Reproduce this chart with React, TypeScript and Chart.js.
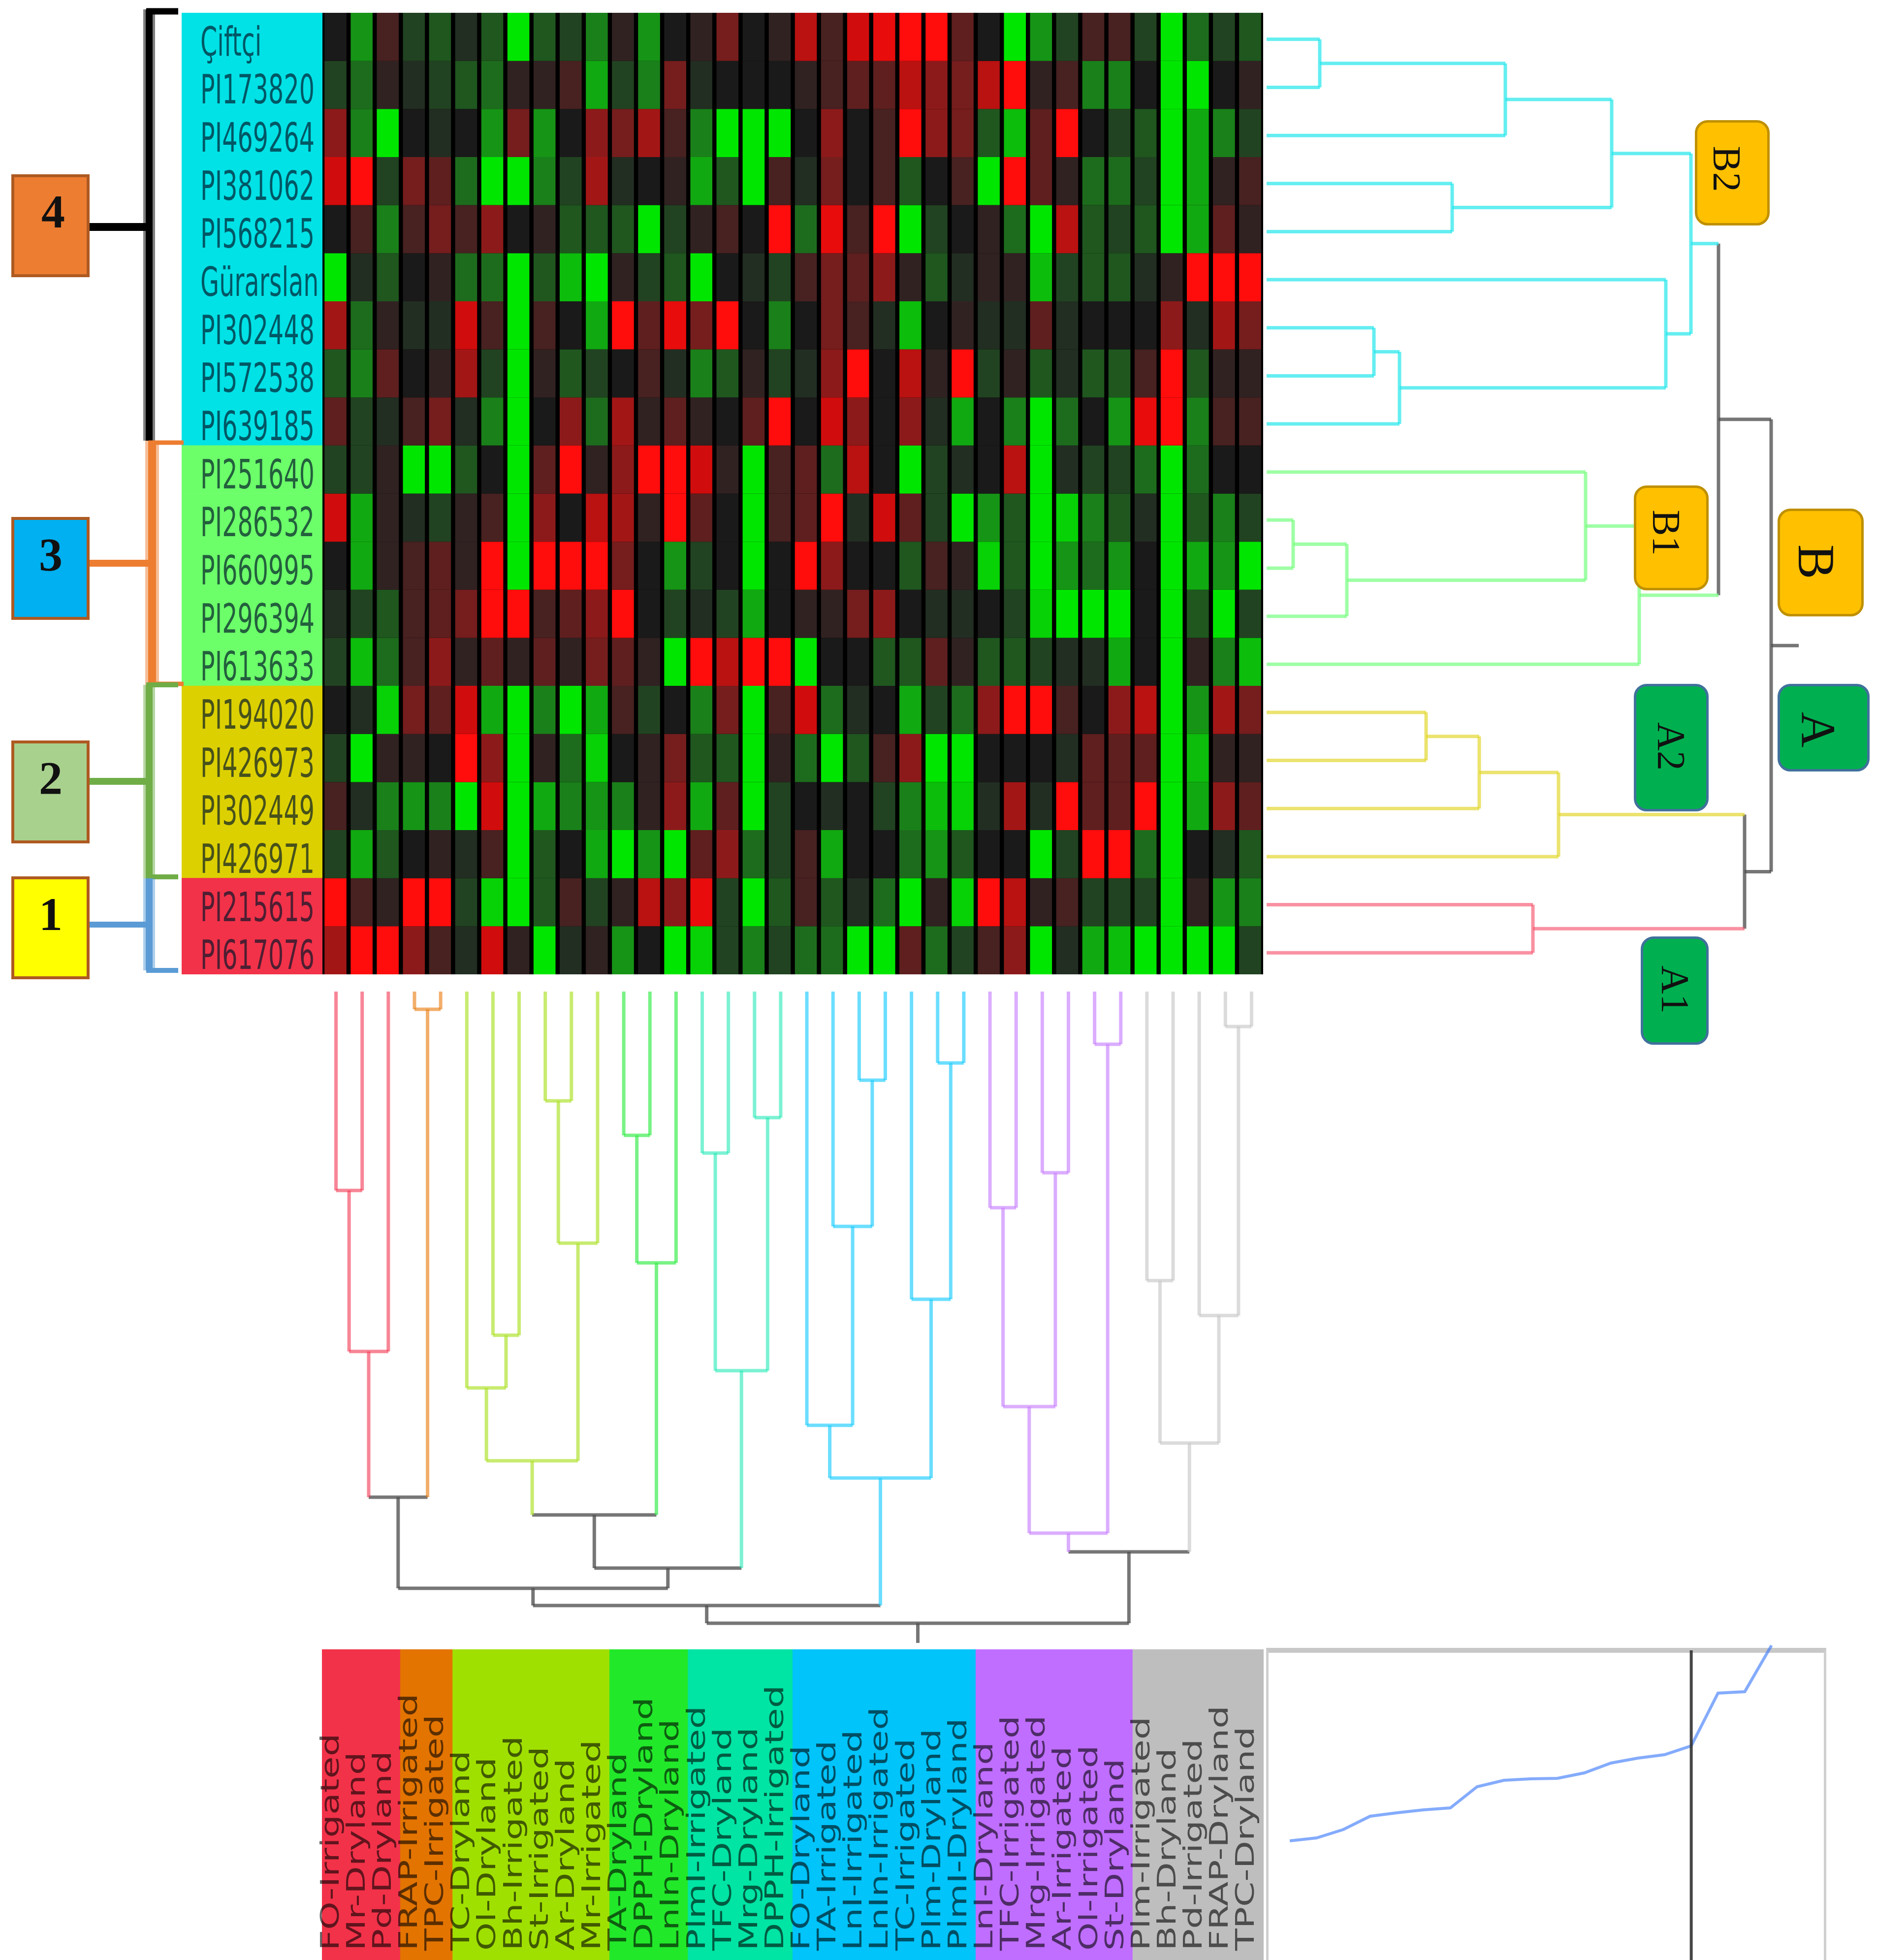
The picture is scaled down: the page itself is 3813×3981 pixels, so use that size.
import React, { useEffect, useRef } from "react";
import { Chart, registerables } from "chart.js";

Chart.register(...registerables);

const rowLabels = ["Çiftçi","PI173820","PI469264","PI381062","PI568215","Gürarslan","PI302448","PI572538","PI639185","PI251640","PI286532","PI660995","PI296394","PI613633","PI194020","PI426973","PI302449","PI426971","PI215615","PI617076"];
const rowClusterSizes = [9, 5, 4, 2];
const rowClusterColors = ["#00e2e6", "#6cff6a", "#dcd000", "#f23249"];

const columnLabels = ["FO-Irrigated","Mr-Dryland","Pd-Dryland","FRAP-Irrigated","TPC-Irrigated","TC-Dryland","Ol-Dryland","Bh-Irrigated","St-Irrigated","Ar-Dryland","Mr-Irrigated","TA-Dryland","DPPH-Dryland","LnIn-Dryland","PlmI-Irrigated","TFC-Dryland","Mrg-Dryland","DPPH-Irrigated","FO-Dryland","TA-Irrigated","LnI-Irrigated","LnIn-Irrigated","TC-Irrigated","Plm-Dryland","PlmI-Dryland","LnI-Dryland","TFC-Irrigated","Mrg-Irrigated","Ar-Irrigated","Ol-Irrigated","St-Dryland","Plm-Irrigated","Bh-Dryland","Pd-Irrigated","FRAP-Dryland","TPC-Dryland"];
const colClusterSizes = [3, 2, 6, 3, 4, 7, 6, 5];
const colClusterColors = ["#f23249", "#e37400", "#a0e000", "#22e82a", "#00e4a4", "#00c4fa", "#c06eff", "#bebebe"];

// heat values in tenths: negative red, positive green
const cellValues = [
  [0,6,-2,2,3,1,3,10,3,2,5,-1,6,0,-1,-4,0,-1,-7,-2,-8,-9,-10,-10,-3,0,10,6,2,-2,-2,2,10,4,2,3],
  [2,4,-1,1,2,3,4,-1,-1,-2,7,2,5,-4,1,0,0,0,-1,-2,-3,-3,-7,-5,-4,-7,-10,-1,-2,5,5,0,10,10,0,-1],
  [-5,5,10,0,1,0,6,-4,6,0,-5,-4,-6,-2,5,10,10,10,0,-5,0,-2,-10,-5,-4,3,8,-3,-10,0,2,3,10,7,5,2],
  [-8,-10,2,-4,-3,4,10,10,5,2,-6,1,0,-1,7,3,10,-2,1,-4,0,-2,3,0,-2,10,-10,-3,-1,4,4,2,10,7,-1,-2],
  [0,-2,5,-2,-4,-2,-5,0,-1,3,3,3,10,2,-1,-2,0,-10,4,-9,-2,-10,10,2,0,-1,4,10,-7,3,2,3,10,7,-3,-1],
  [10,1,3,0,-1,4,4,10,3,8,10,-1,2,3,10,0,1,2,-2,-4,-3,-5,-1,3,1,-1,-1,8,2,3,3,1,-1,-10,-10,-10],
  [-6,4,-1,1,1,-8,-2,10,-2,0,7,-10,-3,-9,-4,-10,0,5,0,-4,-2,1,8,0,-1,1,1,-3,1,0,0,0,-5,1,-6,-4],
  [3,5,-3,0,-1,-6,2,10,-1,3,2,0,-2,1,5,3,-1,2,1,-5,-10,0,-7,-1,-10,2,-1,3,1,3,3,-2,-10,3,-1,-1],
  [-3,2,1,-2,-4,1,5,10,0,-5,4,-6,-1,-3,-1,0,-3,-10,0,-8,-5,0,-5,1,7,0,5,10,4,0,6,-9,-10,5,-2,-2],
  [2,2,-1,10,10,3,0,10,-3,-10,-1,-5,-10,-10,-8,-1,10,-2,-3,4,-7,0,10,2,1,0,-7,10,1,2,2,4,10,4,0,0],
  [-8,7,-1,1,2,-1,-2,10,-5,0,-7,-6,-1,-10,-3,0,10,-2,-3,-10,1,-8,-3,2,10,6,3,10,9,5,3,1,10,3,5,2],
  [0,7,-1,-2,-3,-1,-10,10,-10,-10,-10,-4,0,6,2,0,10,0,-10,-5,0,0,3,-2,-1,9,3,10,6,4,6,0,10,7,6,10],
  [1,2,3,-2,-3,-4,-10,-10,-2,-3,-5,-10,0,2,1,2,7,0,-1,-1,-4,-5,0,1,1,0,2,9,10,10,10,0,10,3,10,2],
  [2,8,4,-2,-5,-1,-3,-1,-3,-1,-4,-3,-1,10,-10,-7,-10,-10,10,0,0,3,3,-3,-1,3,3,2,1,1,7,0,10,-1,5,8],
  [0,1,9,-4,-3,-8,7,10,5,10,7,-2,2,0,5,-4,10,-2,-8,4,1,0,7,2,4,-5,-10,-10,-2,0,-5,-7,10,6,-6,-4],
  [2,10,-1,-1,0,-10,-5,10,-1,4,9,0,-1,-4,3,3,10,-1,4,10,3,-2,-5,10,10,0,0,0,1,-3,-3,-3,10,8,-1,-1],
  [-2,1,5,6,5,10,-8,10,7,5,6,5,-1,-5,7,-3,10,2,0,1,0,2,5,8,9,1,-6,1,-10,-3,-3,-10,10,7,-5,-3],
  [2,7,3,0,-1,1,-2,10,3,0,7,10,6,10,-3,-5,4,2,-2,7,0,0,4,6,3,0,0,10,2,-10,-10,4,10,0,1,3],
  [-10,-2,-1,-10,-10,2,9,10,3,-2,2,-1,-7,-5,-9,2,10,3,-2,3,1,4,10,-1,9,-10,-7,-1,-2,2,2,2,10,-1,6,5],
  [-6,-10,-10,-5,-2,1,-8,-1,10,1,-1,6,0,10,9,2,5,2,4,4,10,10,-3,4,2,-2,-5,10,1,7,8,10,10,10,10,2],
];

// row tree: node ids below 100 are rows, 100+ are earlier merges
const rowMergeA = [0,100,3,101,6,104,5,103,10,108,9,110,107,14,113,114,18,115,112];
const rowMergeB = [1,2,4,102,7,8,105,106,11,12,109,13,111,15,16,17,19,116,117];
const rowMergeHeight = [108,485,377,701,218,270,811,862,54,163,648,757,918,324,432,593,541,971,1025];
const rowMergeColor = ["cy","cy","cy","cy","cy","cy","cy","cy","gr","gr","gr","gr","k","ye","ye","ye","pk","k","k"];
const rowRootTop = 1081;

// column tree, same numbering
const colMergeA = [0,100,3,101,6,5,8,106,105,11,109,108,14,16,112,111,103,20,19,18,23,22,119,116,25,27,124,29,126,31,34,33,129,128,123];
const colMergeB = [1,2,4,102,7,104,9,10,107,12,13,110,15,17,113,114,115,21,117,118,24,120,121,122,26,28,125,30,127,32,35,130,131,132,133];
const colMergeHeight = [404,731,36,1027,698,805,222,511,953,292,551,1063,328,256,770,1171,1212,180,477,881,145,625,988,1247,439,368,843,107,1100,587,71,658,917,1138,1283];
const colMergeColor = ["re","re","or","k","li","li","li","li","li","gn","gn","k","te","te","te","k","k","bl","bl","bl","bl","bl","bl","k","pu","pu","pu","pu","pu","lg","lg","lg","lg","k","k"];
const colRootTop = 1323;

// merge distance for each step of the row tree, with the chosen cut
const screeStep = [0,1,2,3,4,5,6,7,8,9,10,11,12,13,14,15,16,17,18];
const screeDistance = [242,248,265,292,299,305,309,352,365,368,369,380,400,410,417,435,542,545,639];
const screeCut = 15;
const screeCutTop = 629;

const lineColors: Record<string, string> = {
  cy: "rgba(40,232,236,.72)", gr: "rgba(125,255,135,.75)", ye: "rgba(226,214,40,.68)", pk: "rgba(246,88,112,.66)", k: "rgba(80,80,80,.78)",
  re: "rgba(242,60,85,.62)", or: "rgba(232,125,16,.62)", li: "rgba(176,226,50,.7)", gn: "rgba(50,236,70,.66)", te: "rgba(30,232,180,.58)",
  bl: "rgba(30,205,255,.66)", pu: "rgba(200,130,255,.66)", lg: "rgba(200,200,200,.66)",
};

const expand = (sizes: number[], colors: string[]) => sizes.flatMap((n, i) => Array(n).fill(colors[i]));

function cellColor(v: number) {
  if (v === 0) return "#1a1a1a";
  const t = Math.abs(v) / 10;
  const o = Math.round(34 * (1 - t * t));
  if (v > 0) {
    const g = Math.round(26 + 204 * t);
    return `rgb(${o},${g},${o})`;
  }
  const r = Math.round(26 + 229 * t);
  const q = Math.max(o, 12);
  return `rgb(${r},${q},${q})`;
}

function buildLinks(a: number[], b: number[], h: number[], c: string[], rootTop: number) {
  const pos: number[] = [];
  const segs: { p: number[]; q: number[]; color: string }[] = [];
  const pOf = (id: number) => (id >= 100 ? pos[id - 100] : id);
  const hOf = (id: number) => (id >= 100 ? h[id - 100] : 0);
  const cOf = (id: number, own: string) => (id >= 100 ? c[id - 100] : own);
  a.forEach((ida, j) => {
    const idb = b[j];
    const pa = pOf(ida);
    const pb = pOf(idb);
    pos[j] = (pa + pb) / 2;
    segs.push({ p: [pa, hOf(ida)], q: [pa, h[j]], color: cOf(ida, c[j]) });
    segs.push({ p: [pb, hOf(idb)], q: [pb, h[j]], color: cOf(idb, c[j]) });
    segs.push({ p: [pa, h[j]], q: [pb, h[j]], color: c[j] });
  });
  const last = a.length - 1;
  segs.push({ p: [pos[last], h[last]], q: [pos[last], rootTop], color: "k" });
  return segs;
}

const plainOptions = (scales: any, extra: any = {}) => ({
  responsive: false,
  maintainAspectRatio: false,
  animation: false,
  devicePixelRatio: 1,
  events: [],
  layout: { padding: 0 },
  plugins: { legend: { display: false }, tooltip: { enabled: false }, title: { display: false } },
  scales,
  ...extra,
});

const boxes = [
  { t: "B2", l: 3443, y: 244, w: 152, h: 214, bg: "#ffc000", bd: "#bf9000", cx: 3508, cy: 343, fs: 80, b: 400 },
  { t: "B1", l: 3319, y: 986, w: 152, h: 213, bg: "#ffc000", bd: "#bf9000", cx: 3385, cy: 1082, fs: 80, b: 400 },
  { t: "B", l: 3611, y: 1033, w: 175, h: 219, bg: "#ffc000", bd: "#bf9000", cx: 3689, cy: 1141, fs: 106, b: 400 },
  { t: "A2", l: 3319, y: 1389, w: 152, h: 259, bg: "#00b050", bd: "#41719c", cx: 3395, cy: 1516, fs: 80, b: 400 },
  { t: "A", l: 3611, y: 1389, w: 187, h: 178, bg: "#00b050", bd: "#41719c", cx: 3693, cy: 1482, fs: 100, b: 400 },
  { t: "A1", l: 3333, y: 1902, w: 138, h: 220, bg: "#00b050", bd: "#41719c", cx: 3403, cy: 2010, fs: 80, b: 400 },
];

const numberBoxes = [
  { t: "4", y: 354, bg: "#ed7d31", cy: 430, cx: 108 },
  { t: "3", y: 1050, bg: "#00b0f0", cy: 1127, cx: 103 },
  { t: "2", y: 1504, bg: "#a9d18e", cy: 1581, cx: 103 },
  { t: "1", y: 1780, bg: "#ffff00", cy: 1857, cx: 103 },
];

const bracketLines: [number, number, number, number, string, number][] = [
  [303, 19, 303, 895, "rgba(0,0,0,.5)", 24], [303, 19, 303, 895, "#000", 14], [297, 23, 362, 23, "#000", 13], [182, 461, 298, 461, "#000", 16],
  [309, 895, 309, 1391, "rgba(237,125,49,.5)", 28], [309, 895, 309, 1391, "#ed7d31", 16], [302, 899, 373, 899, "#ed7d31", 9], [302, 1389, 373, 1389, "#ed7d31", 9], [182, 1144, 302, 1144, "#ed7d31", 14],
  [303, 1391, 303, 1784, "rgba(112,173,71,.5)", 24], [303, 1391, 303, 1784, "#70ad47", 14], [297, 1391, 362, 1391, "#70ad47", 10], [297, 1781, 362, 1781, "#70ad47", 10], [182, 1587, 298, 1587, "#70ad47", 14],
  [303, 1784, 303, 1971, "rgba(91,155,213,.5)", 24], [303, 1784, 303, 1971, "#5b9bd5", 14], [297, 1971, 362, 1971, "#5b9bd5", 10], [182, 1878, 298, 1878, "#5b9bd5", 12],
];

const px = (n: number) => `${n}px`;

export default function App() {
  const heatRef = useRef<HTMLCanvasElement>(null);
  const rowRef = useRef<HTMLCanvasElement>(null);
  const rightRef = useRef<HTMLCanvasElement>(null);
  const bottomRef = useRef<HTMLCanvasElement>(null);
  const stripRef = useRef<HTMLCanvasElement>(null);
  const screeRef = useRef<HTMLCanvasElement>(null);

  useEffect(() => {
    document.body.style.margin = "0";
    document.body.style.background = "#fff";
    const charts: Chart[] = [];

    charts.push(new Chart(heatRef.current!, {
      type: "bar",
      data: {
        labels: columnLabels,
        datasets: rowLabels.map((name, r) => ({
          label: name,
          data: columnLabels.map(() => 1),
          backgroundColor: cellValues[r].map(cellColor),
          borderWidth: 0,
          barPercentage: 0.84,
          categoryPercentage: 1,
          stack: "rows",
        })),
      },
      options: plainOptions({
        x: { type: "category", stacked: true, display: false },
        y: { type: "linear", stacked: true, reverse: true, min: 0, max: 20, display: false },
      }) as any,
    }));

    const rowColors = expand(rowClusterSizes, rowClusterColors);
    charts.push(new Chart(rowRef.current!, {
      type: "bar",
      data: {
        labels: rowLabels,
        datasets: [{ data: rowLabels.map(() => 1), backgroundColor: rowColors, borderWidth: 0, barPercentage: 1, categoryPercentage: 1 }],
      },
      options: plainOptions({
        x: { type: "linear", min: 0, max: 1, display: false },
        y: { type: "category", display: false },
      }, { indexAxis: "y" }) as any,
      plugins: [{
        id: "rowNames",
        afterDatasetsDraw(chart: any) {
          const ctx = chart.ctx;
          const yScale = chart.scales.y;
          rowLabels.forEach((name, i) => {
            ctx.save();
            ctx.translate(chart.chartArea.left + 38, yScale.getPixelForValue(i) + 38);
            ctx.scale(0.6, 1);
            ctx.font = "82px 'DejaVu Sans'";
            ctx.fillStyle = "rgba(0,20,40,.68)";
            ctx.textBaseline = "alphabetic";
            ctx.fillText(name, 0, 0);
            ctx.restore();
          });
        },
      }],
    } as any));

    const rightSegs = buildLinks(rowMergeA, rowMergeB, rowMergeHeight, rowMergeColor, rowRootTop);
    charts.push(new Chart(rightRef.current!, {
      type: "scatter",
      data: {
        datasets: rightSegs.map((s) => ({
          data: [{ x: s.p[1], y: s.p[0] }, { x: s.q[1], y: s.q[0] }],
          showLine: true, pointRadius: 0, borderWidth: 7, borderColor: lineColors[s.color], fill: false,
        })),
      },
      options: plainOptions({
        x: { type: "linear", min: 0, max: 1100, display: false },
        y: { type: "linear", min: -0.5, max: 19.5, reverse: true, display: false },
      }) as any,
    }));

    const bottomSegs = buildLinks(colMergeA, colMergeB, colMergeHeight, colMergeColor, colRootTop);
    charts.push(new Chart(bottomRef.current!, {
      type: "scatter",
      data: {
        datasets: bottomSegs.map((s) => ({
          data: [{ x: s.p[0], y: s.p[1] }, { x: s.q[0], y: s.q[1] }],
          showLine: true, pointRadius: 0, borderWidth: 7, borderColor: lineColors[s.color], fill: false,
        })),
      },
      options: plainOptions({
        x: { type: "linear", min: -0.5, max: 35.5, display: false },
        y: { type: "linear", min: 0, max: 1330, reverse: true, display: false },
      }) as any,
    }));

    const colColors = expand(colClusterSizes, colClusterColors);
    charts.push(new Chart(stripRef.current!, {
      type: "bar",
      data: {
        labels: columnLabels,
        datasets: [{ data: columnLabels.map(() => 1), backgroundColor: colColors, borderWidth: 0, barPercentage: 1.02, categoryPercentage: 1 }],
      },
      options: plainOptions({
        x: { type: "category", display: false },
        y: { type: "linear", min: 0, max: 1, display: false },
      }, { layout: { padding: { left: 10 } } }) as any,
      plugins: [{
        id: "columnNames",
        afterDatasetsDraw(chart: any) {
          const ctx = chart.ctx;
          const xScale = chart.scales.x;
          columnLabels.forEach((name, i) => {
            ctx.save();
            ctx.translate(xScale.getPixelForValue(i) + 7, chart.chartArea.top + 612);
            ctx.rotate(-Math.PI / 2);
            ctx.scale(1.41, 1);
            ctx.font = "52px 'DejaVu Sans'";
            ctx.fillStyle = "rgba(0,0,0,.6)";
            ctx.textBaseline = "alphabetic";
            ctx.fillText(name, 0, 0);
            ctx.restore();
          });
        },
      }],
    } as any));

    charts.push(new Chart(screeRef.current!, {
      type: "scatter",
      data: {
        datasets: [
          {
            data: [{ x: screeCut, y: 0 }, { x: screeCut, y: screeCutTop }],
            showLine: true, pointRadius: 0, borderWidth: 6, borderColor: "rgba(50,50,50,.9)",
          },
          {
            data: screeStep.map((s, i) => ({ x: s, y: screeDistance[i] })),
            showLine: true, pointRadius: 0, borderWidth: 6, borderColor: "rgba(50,115,250,.6)", tension: 0,
          },
        ],
      },
      options: plainOptions({
        x: { type: "linear", min: -0.886, max: 20.01, display: false },
        y: { type: "linear", min: 0, max: 651, display: false },
      }) as any,
    }));

    return () => charts.forEach((c) => c.destroy());
  }, []);

  const abs = (l: number, t: number, w: number, h: number): React.CSSProperties => ({ position: "absolute", left: px(l), top: px(t), width: px(w), height: px(h), display: "block" });

  return (
    <div style={{ position: "relative", width: 3813, height: 3981, overflow: "hidden", background: "#fff" }}>
      <canvas ref={heatRef} width={1911} height={1953} style={{ ...abs(655, 26, 1911, 1953), background: "#000" }} />
      <canvas ref={rowRef} width={286} height={1953} style={abs(369, 26, 286, 1953)} />
      <canvas ref={rightRef} width={1100} height={1953} style={abs(2573, 31, 1100, 1953)} />
      <canvas ref={bottomRef} width={1913} height={1330} style={abs(656, 2014, 1913, 1330)} />
      <canvas ref={stripRef} width={1923} height={631} style={abs(644, 3350, 1923, 631)} />
      <div style={{ position: "absolute", left: 2572, top: 3347, width: 1138, height: 634, boxSizing: "border-box", borderTop: "10px solid #c8c8c8", borderLeft: "5px solid #cfcfcf", borderRight: "5px solid #cfcfcf" }} />
      <canvas ref={screeRef} width={1136} height={651} style={abs(2572, 3330, 1136, 651)} />

      <svg width={3813} height={3981} style={{ position: "absolute", left: 0, top: 0, pointerEvents: "none" }}>
        {bracketLines.map(([x1, y1, x2, y2, c, w], i) => (
          <line key={i} x1={x1} y1={y1} x2={x2} y2={y2} stroke={c} strokeWidth={w} />
        ))}
      </svg>

      {numberBoxes.map((b) => (
        <div key={b.t} style={{ position: "absolute", left: 23, top: b.y, width: 159, height: 209, boxSizing: "border-box", background: b.bg, border: "6px solid #ae5a21" }} />
      ))}
      {numberBoxes.map((b) => (
        <div key={b.t + "t"} style={{ position: "absolute", left: b.cx - 60, top: b.cy - 60, width: 120, height: 120, lineHeight: "120px", textAlign: "center", fontFamily: "'Liberation Serif'", fontWeight: 700, fontSize: 96, color: "#111" }}>{b.t}</div>
      ))}

      {boxes.map((b) => (
        <div key={b.t} style={{ position: "absolute", left: b.l, top: b.y, width: b.w, height: b.h, boxSizing: "border-box", background: b.bg, border: `5px solid ${b.bd}`, borderRadius: 26 }} />
      ))}
      {boxes.map((b) => (
        <div key={b.t + "t"} style={{ position: "absolute", left: b.cx - 100, top: b.cy - 60, width: 200, height: 120, lineHeight: "120px", textAlign: "center", fontFamily: "'Liberation Serif'", fontWeight: b.b, fontSize: b.fs, color: "#111", transform: "rotate(90deg)" }}>{b.t}</div>
      ))}
    </div>
  );
}
